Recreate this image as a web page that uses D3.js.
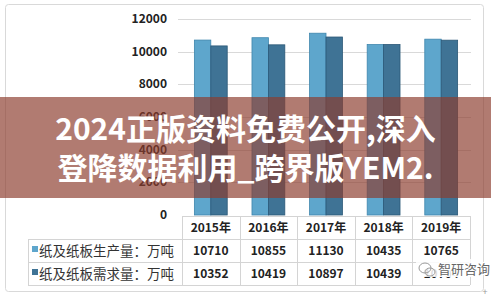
<!DOCTYPE html>
<html>
<head>
<meta charset="utf-8">
<script src="https://cdn.jsdelivr.net/npm/d3@7"></script>
<style>
  body { margin: 0; background: #fff; }
  svg { display: block; font-family: "Noto Sans CJK SC", "Noto Sans", sans-serif; }
</style>
</head>
<body>
<div class="board"></div>
<script>
/*
=================================
DATA
=================================
*/
var years = ['2015年', '2016年', '2017年', '2018年', '2019年'];
var production = [10710, 10855, 11130, 10435, 10765];
var demand = [10352, 10419, 10897, 10439, 10704];
var seriesNames = ['纸及纸板生产量：万吨', '纸及纸板需求量：万吨'];
var yTicks = [0, 2000, 4000, 6000, 8000, 10000, 12000];
var bannerLines = ['2024正版资料免费公开,深入', '登降数据利用_跨界版YEM2.'];
var watermark = '智研咨询';

/*
=================================
CREATE BACKGROUND CONTAINER
=================================
*/
var width = 491, height = 297;

var svg = d3.select('.board').append('svg')
            .attr('width', width)
            .attr('height', height);

svg.append('rect')
   .attr('x', 5.5).attr('y', 4.5)
   .attr('width', 478).attr('height', 287)
   .attr('rx', 3)
   .attr('fill', '#fff')
   .attr('stroke', '#d9d9d9');

/*
=================================
SCALES
=================================
*/
var plotLeft = 182, plotRight = 470;

var x = d3.scaleBand()
          .domain(years)
          .range([plotLeft, plotRight])
          .paddingInner(0.43)
          .paddingOuter(0.215);

var y = d3.scaleLinear()
          .domain([0, 12000])
          .range([215, 19]);

var colors = ['#5ea6cc', '#3f7395'];
var strokes = ['#3f86ad', '#2b5877'];

/*
=================================
GRID + Y AXIS
=================================
*/
svg.append('g').selectAll('line')
   .data(yTicks.filter(d => d > 0))
   .enter().append('line')
   .attr('x1', 178).attr('x2', 471)
   .attr('y1', d => Math.round(y(d)) + 0.5)
   .attr('y2', d => Math.round(y(d)) + 0.5)
   .attr('stroke', '#d9d9d9');

svg.append('g').selectAll('text')
   .data(yTicks)
   .enter().append('text')
   .attr('x', 167)
   .attr('y', d => y(d) + 4)
   .attr('text-anchor', 'end')
   .attr('font-size', 12)
   .attr('font-weight', 'bold')
   .attr('fill', '#222')
   .text(d => d);

/*
=================================
BARS
=================================
*/
var half = x.bandwidth() / 2;

[production, demand].forEach(function(values, s) {
  svg.append('g').selectAll('rect')
     .data(values)
     .enter().append('rect')
     .attr('x', (d, i) => x(years[i]) + s * half)
     .attr('y', d => y(d))
     .attr('width', half)
     .attr('height', d => y(0) - y(d))
     .attr('fill', colors[s])
     .attr('stroke', strokes[s])
     .attr('stroke-width', 0.8);
});

/*
=================================
DATA TABLE
=================================
*/
var rowTop = 216, rowH = 23, labelLeft = 28;
var table = svg.append('g').attr('stroke', '#d4d4d4').attr('fill', 'none');

// horizontal lines
table.append('line').attr('x1', plotLeft).attr('x2', plotRight)
     .attr('y1', rowTop + 0.5).attr('y2', rowTop + 0.5);
[1, 2, 3].forEach(function(r) {
  table.append('line').attr('x1', labelLeft).attr('x2', plotRight)
       .attr('y1', rowTop + r * rowH + 0.5).attr('y2', rowTop + r * rowH + 0.5);
});

// vertical lines
var colEdges = [plotLeft].concat(years.map(d => x(d) + x.bandwidth() + x.step() * x.paddingInner() / 2));
colEdges[colEdges.length - 1] = plotRight;
colEdges.forEach(function(cx) {
  table.append('line').attr('x1', Math.round(cx) + 0.5).attr('x2', Math.round(cx) + 0.5)
       .attr('y1', rowTop).attr('y2', rowTop + 3 * rowH);
});
table.append('line').attr('x1', labelLeft + 0.5).attr('x2', labelLeft + 0.5)
     .attr('y1', rowTop + rowH).attr('y2', rowTop + 3 * rowH);

// header years
svg.append('g').selectAll('text')
   .data(years)
   .enter().append('text')
   .attr('x', d => x(d) + half)
   .attr('y', rowTop + 16)
   .attr('text-anchor', 'middle')
   .attr('font-size', 12)
   .attr('font-weight', 'bold')
   .attr('fill', '#222')
   .text(d => d);

// series rows
[production, demand].forEach(function(values, s) {
  var ty = rowTop + (s + 1) * rowH + 16;

  svg.append('rect')
     .attr('x', 32).attr('y', ty - 9)
     .attr('width', 6).attr('height', 6)
     .attr('fill', colors[s]);

  svg.append('text')
     .attr('x', 39).attr('y', ty + 1)
     .attr('font-size', 13.5)
     .attr('fill', '#333')
     .text(seriesNames[s]);

  svg.append('g').selectAll('text')
     .data(values)
     .enter().append('text')
     .attr('x', (d, i) => x(years[i]) + half)
     .attr('y', ty)
     .attr('text-anchor', 'middle')
     .attr('font-size', 12)
     .attr('font-weight', 'bold')
     .attr('fill', '#222')
     .text(d => d);
});

// watermark
var wm = svg.append('g').attr('transform', 'translate(416,272)');
wm.append('rect').attr('x', 0).attr('y', -13).attr('width', 62).attr('height', 18)
  .attr('fill', '#fff').attr('opacity', 0.85);
wm.append('ellipse').attr('cx', 9).attr('cy', -4).attr('rx', 6).attr('ry', 5)
  .attr('fill', 'none').attr('stroke', '#999').attr('stroke-width', 1);
wm.append('ellipse').attr('cx', 14).attr('cy', 0).attr('rx', 5).attr('ry', 4)
  .attr('fill', 'none').attr('stroke', '#999').attr('stroke-width', 1);
wm.append('text').attr('x', 22).attr('y', 2)
  .attr('font-size', 13).attr('fill', '#666')
  .attr('stroke', '#fff').attr('stroke-width', 2).attr('paint-order', 'stroke')
  .text(watermark);

svg.append('text').attr('x', 485).attr('y', 295)
   .attr('font-size', 9).attr('fill', '#999').attr('text-anchor', 'middle').text('+');

/*
=================================
BANNER OVERLAY
=================================
*/
svg.append('rect')
   .attr('x', 0).attr('y', 97)
   .attr('width', width).attr('height', 101)
   .attr('fill', 'rgb(140,60,45)')
   .attr('opacity', 0.68);

svg.append('g').selectAll('text')
   .data(bannerLines)
   .enter().append('text')
   .attr('x', width / 2)
   .attr('y', (d, i) => 140 + i * 39)
   .attr('text-anchor', 'middle')
   .attr('font-size', 30)
   .attr('font-weight', 'bold')
   .attr('fill', '#fff')
   .text(d => d);
</script>
</body>
</html>
